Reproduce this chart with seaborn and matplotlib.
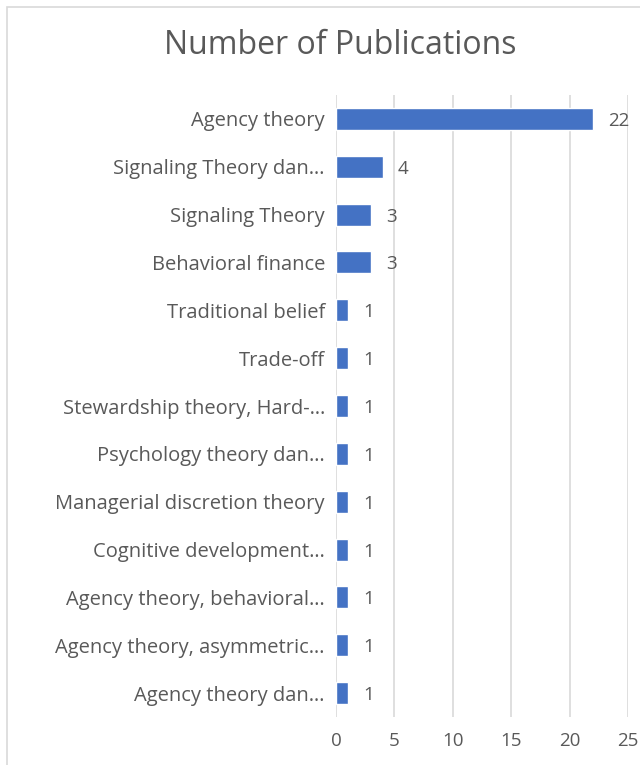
import matplotlib
matplotlib.use("Agg")
import matplotlib.pyplot as plt
from matplotlib.patches import Rectangle
import seaborn as sns
import pandas as pd

theories = [
    "Agency theory",
    "Signaling Theory dan…",
    "Signaling Theory",
    "Behavioral finance",
    "Traditional belief",
    "Trade-off",
    "Stewardship theory, Hard-…",
    "Psychology theory dan…",
    "Managerial discretion theory",
    "Cognitive development…",
    "Agency theory, behavioral…",
    "Agency theory, asymmetric…",
    "Agency theory dan…",
]
publications = [22, 4, 3, 3, 1, 1, 1, 1, 1, 1, 1, 1, 1]
x_ticks = [0, 5, 10, 15, 20, 25]

df = pd.DataFrame({"theory": theories, "count": publications})

sns.set_theme(style="white")
plt.rcParams["font.family"] = ["Open Sans", "DejaVu Sans"]

BAR = "#4472C4"
TEXT = "#595959"
GRID = "#d9d9d9"

fig = plt.figure(figsize=(6.4, 7.65), dpi=100)
fig.patch.set_facecolor("white")

# chart frame
fig.patches.append(Rectangle((7 / 640, -0.05), 1.2, 1 - 7 / 765 + 0.05,
                             transform=fig.transFigure, fill=False,
                             edgecolor=GRID, linewidth=1.2))

ax = fig.add_axes([0.525, 0.0627, 0.45625, 0.8131])
sns.barplot(data=df, x="count", y="theory", orient="h", color=BAR,
            width=0.46, saturation=1, ax=ax, zorder=3)

ax.set_xlim(0, 25)
ax.set_xticks(x_ticks)
ax.set_xticklabels([str(t) for t in x_ticks])
ax.grid(axis="x", color=GRID, linewidth=1.2, zorder=0)
ax.grid(axis="y", visible=False)
for s in ax.spines.values():
    s.set_visible(False)
ax.set_xlabel("")
ax.set_ylabel("")
ax.tick_params(axis="x", length=0, pad=11, labelsize=13.5, labelcolor=TEXT)
ax.tick_params(axis="y", length=0, pad=8, labelsize=14.5, labelcolor=TEXT)

for i, v in enumerate(publications):
    ax.annotate(str(v), (v, i), xytext=(11, 0), textcoords="offset points",
                va="center_baseline", ha="left", fontsize=13.5, color=TEXT,
                zorder=4)

fig.text(340 / 640, 1 - 45 / 765, "Number of Publications",
         ha="center", va="center", fontsize=23, color=TEXT)

fig.savefig("out.png", dpi=100, facecolor="white")
